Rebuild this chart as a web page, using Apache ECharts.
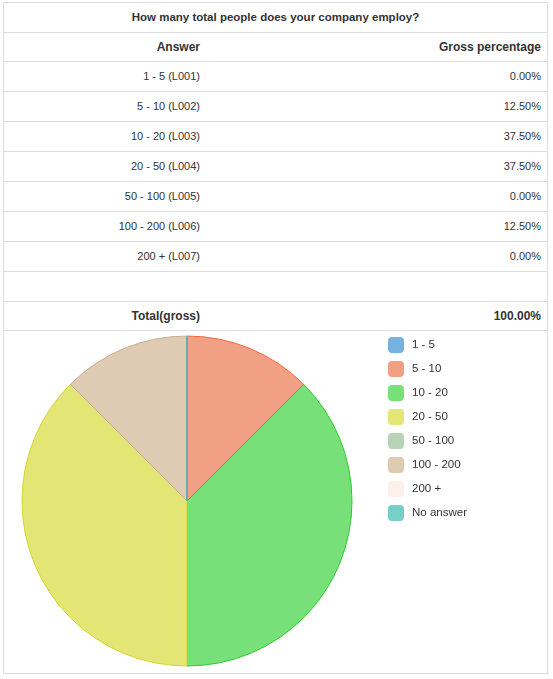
<!DOCTYPE html>
<html>
<head>
<meta charset="utf-8">
<script src="https://cdn.jsdelivr.net/npm/echarts@6/dist/echarts.min.js"></script>
<style>
  html, body { margin: 0; padding: 0; background: #fff; }
  body { font-family: "Liberation Sans", Arial, sans-serif; font-size: 11px; color: #333; }
  #box { position: absolute; left: 3px; top: 2px; width: 543px; height: 670px; border: 1px solid #ddd; }
  .row { position: absolute; left: 0; width: 543px; border-bottom: 1px solid #ddd; }
  .row span { position: absolute; top: 0; white-space: nowrap; }
  .l { right: 347px; text-align: right; }
  .r { right: 6px; text-align: right; }
  .b { font-weight: bold; font-size: 12px; }
  .t { font-weight: bold; font-size: 11.5px; }
  #pie { position: absolute; left: 0; top: 328px; width: 543px; height: 342px; }
</style>
</head>
<body>
<div id="box">
  <div id="rows"></div>
  <div id="pie"></div>
</div>
<script>
// 题目和表格数据
let question = 'How many total people does your company employ?';
let answers = ['1 - 5 (L001)', '5 - 10 (L002)', '10 - 20 (L003)', '20 - 50 (L004)', '50 - 100 (L005)', '100 - 200 (L006)', '200 + (L007)'];
let percents = [0, 12.5, 37.5, 37.5, 0, 12.5, 0];
let totalPercent = 100;

// 饼图数据
let pieNames = ['1 - 5', '5 - 10', '10 - 20', '20 - 50', '50 - 100', '100 - 200', '200 +', 'No answer'];
let pieValues = [0, 12.5, 37.5, 37.5, 0, 12.5, 0, 0];
let pieColors = ['#75b2e0', '#f1a084', '#78e078', '#e3e575', '#b8d3b6', '#dfcbb3', '#fbf0ea', '#76cfc8'];
let pieBorders = ['#3b8fd0', '#ee6a40', '#2ccb2c', '#d6d42a', '#8fb88c', '#c8ad8f', '#eed6cb', '#3aa8a0'];

// 表格
var rowsDiv = document.getElementById('rows');
var y = 0;
function addRow(h, left, right, bold, center) {
  var d = document.createElement('div');
  d.className = 'row';
  d.style.top = y + 'px';
  d.style.height = h + 'px';
  d.style.lineHeight = h + 'px';
  if (center) {
    d.innerHTML = '<span class="t" style="left:0;right:0;text-align:center">' + left + '</span>';
  } else {
    d.innerHTML = '<span class="l' + (bold ? ' b' : '') + '">' + left + '</span>' +
                  '<span class="r' + (bold ? ' b' : '') + '">' + right + '</span>';
  }
  rowsDiv.appendChild(d);
  y += h + 1;
}
addRow(29, question, '', true, true);
addRow(28, 'Answer', 'Gross percentage', true);
for (let i = 0; i < answers.length; i++) {
  addRow(29, answers[i], percents[i].toFixed(2) + '%', false);
}
addRow(29, '', '', false);
addRow(28, 'Total(gross)', totalPercent.toFixed(2) + '%', true);

// 饼图
var myChart = echarts.init(document.getElementById('pie'));
var pieData = [];
for (let i = 0; i < pieNames.length; i++) {
  pieData.push({
    name: pieNames[i],
    value: pieValues[i],
    itemStyle: { color: pieColors[i], borderColor: pieBorders[i], borderWidth: 1 }
  });
}
var option = {
  animation: false,
  textStyle: { fontFamily: 'Liberation Sans, Arial, sans-serif' },
  legend: {
    orient: 'vertical',
    left: 384,
    top: 6,
    padding: 0,
    itemWidth: 16,
    itemHeight: 16,
    itemGap: 8,
    icon: 'roundRect',
    selectedMode: false,
    itemStyle: { borderWidth: 0 },
    textStyle: { fontSize: 11.5, color: '#333', padding: [0, 0, 0, 3] },
    data: pieNames
  },
  series: [
    {
      type: 'pie',
      center: [183, 170],
      radius: 165,
      startAngle: 90,
      clockwise: true,
      label: { show: false },
      labelLine: { show: false },
      emphasis: { disabled: true },
      data: pieData
    }
  ]
};
myChart.setOption(option);
</script>
</body>
</html>
